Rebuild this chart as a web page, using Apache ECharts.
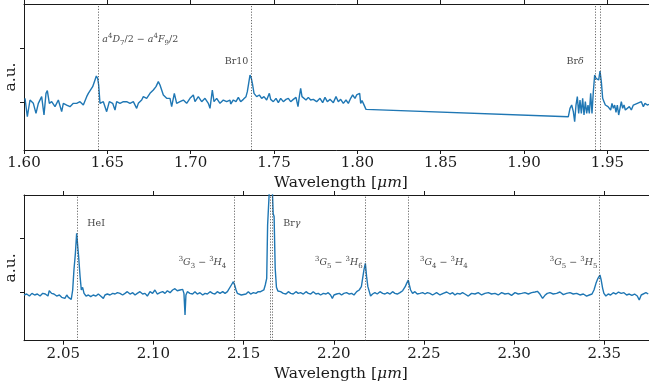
<!DOCTYPE html>
<html>
<head>
<meta charset="utf-8">
<script src="https://cdn.jsdelivr.net/npm/echarts@6/dist/echarts.min.js"></script>
<style>
html, body { margin: 0; padding: 0; background: #fff; }
#chart { width: 649px; height: 381px; }
</style>
</head>
<body>
<div id="chart"></div>
<script>
// H-band spectrum: [wavelength (um), normalised flux]
const hBandSpectrum = [
  [1.6006,1.068],[1.6020,0.728],[1.6036,1.037],[1.6056,0.975],[1.6072,0.790],[1.6086,0.975],[1.6106,1.099],[1.6120,0.759],
  [1.6132,1.160],[1.6140,1.210],[1.6152,0.975],[1.6166,1.006],[1.6186,0.914],[1.6206,1.037],[1.6226,0.821],[1.6236,0.975],
  [1.6256,0.944],[1.6276,0.914],[1.6296,0.975],[1.6316,0.975],[1.6336,1.006],[1.6356,0.944],[1.6376,1.099],[1.6386,1.160],
  [1.6396,1.191],[1.6412,1.284],[1.6426,1.407],[1.6434,1.481],[1.6442,1.438],[1.6448,1.315],[1.6456,0.975],[1.6476,1.006],
  [1.6496,0.821],[1.6512,1.006],[1.6532,0.975],[1.6546,0.852],[1.6556,1.006],[1.6576,0.975],[1.6596,1.006],[1.6616,1.006],
  [1.6636,0.975],[1.6656,1.006],[1.6676,0.883],[1.6686,0.975],[1.6706,1.037],[1.6716,1.099],[1.6736,1.068],[1.6756,1.160],
  [1.6776,1.222],[1.6792,1.284],[1.6806,1.377],[1.6816,1.315],[1.6826,1.222],[1.6836,1.130],[1.6856,1.068],[1.6876,1.068],
  [1.6886,0.914],[1.6902,1.160],[1.6916,0.975],[1.6936,1.006],[1.6956,1.037],[1.6976,0.975],[1.6996,1.068],[1.7016,1.130],
  [1.7026,1.006],[1.7046,1.099],[1.7066,1.006],[1.7086,1.068],[1.7106,0.975],[1.7116,0.883],[1.7130,1.222],[1.7140,1.006],
  [1.7156,1.068],[1.7176,0.975],[1.7196,1.037],[1.7216,1.006],[1.7236,1.037],[1.7240,0.963],[1.7256,1.037],[1.7272,1.006],
  [1.7286,1.086],[1.7300,1.006],[1.7316,1.049],[1.7332,1.099],[1.7340,1.191],[1.7348,1.346],[1.7356,1.500],[1.7364,1.438],
  [1.7372,1.315],[1.7380,1.160],[1.7388,1.191],[1.7396,1.099],[1.7412,1.130],[1.7426,1.068],[1.7440,1.099],[1.7456,1.037],
  [1.7472,1.160],[1.7480,1.049],[1.7496,1.006],[1.7512,1.068],[1.7526,0.988],[1.7540,1.068],[1.7556,1.006],[1.7572,1.049],
  [1.7586,1.068],[1.7600,1.006],[1.7616,1.049],[1.7632,1.086],[1.7644,0.914],[1.7652,1.099],[1.7660,1.253],[1.7668,1.099],
  [1.7680,1.130],[1.7692,1.037],[1.7706,1.086],[1.7720,1.037],[1.7736,1.049],[1.7756,1.006],[1.7776,1.068],[1.7792,0.988],
  [1.7806,1.086],[1.7820,1.006],[1.7836,1.049],[1.7856,0.988],[1.7872,1.099],[1.7886,1.006],[1.7900,1.049],[1.7916,0.975],
  [1.7932,1.037],[1.7946,0.975],[1.7960,1.068],[1.7972,1.130],[1.7986,1.068],[1.7996,1.130],[1.8006,1.160],[1.8014,1.160],
  [1.8020,0.975],[1.8028,1.025],[1.8036,0.975],[1.8044,1.006],[1.8052,0.864],
  [1.9266,0.728],[1.9276,0.883],[1.9286,0.944],[1.9296,0.821],[1.9304,0.636],[1.9312,0.944],[1.9320,1.099],[1.9328,0.790],
  [1.9336,1.037],[1.9344,0.790],[1.9352,1.068],[1.9360,0.759],[1.9368,1.006],[1.9376,0.790],[1.9384,0.944],[1.9392,0.790],
  [1.9400,1.160],[1.9408,0.790],[1.9416,1.191],[1.9424,1.500],[1.9432,1.438],[1.9440,1.469],[1.9448,1.407],[1.9456,1.574],
  [1.9464,1.377],[1.9472,1.068],[1.9480,1.006],[1.9488,0.944],[1.9496,0.975],[1.9504,0.914],[1.9512,0.944],[1.9520,0.852],
  [1.9528,0.975],[1.9536,0.883],[1.9544,0.944],[1.9552,0.809],[1.9560,0.944],[1.9568,0.759],[1.9576,0.883],[1.9584,1.006],
  [1.9592,0.883],[1.9600,0.944],[1.9608,0.852],[1.9620,0.883],[1.9632,0.914],[1.9644,0.852],[1.9656,0.944],[1.9668,0.914],
  [1.9680,0.975],[1.9692,0.944],[1.9704,1.006],[1.9716,0.914],[1.9726,0.975],[1.9740,0.944],[1.9750,0.957]
];

// K-band spectrum: [wavelength (um), normalised flux]
const kBandSpectrum = [
  [2.0282,0.958],[2.0297,0.976],[2.0312,0.939],[2.0326,0.988],[2.0341,0.958],[2.0356,0.976],[2.0371,0.939],[2.0386,0.988],
  [2.0400,0.976],[2.0415,0.939],[2.0422,1.037],[2.0435,0.988],[2.0448,0.976],[2.0463,0.939],[2.0478,0.958],[2.0491,0.915],
  [2.0500,0.939],[2.0509,0.896],[2.0519,0.958],[2.0528,0.915],[2.0537,0.896],[2.0544,0.878],[2.0552,1.050],[2.0559,1.417],
  [2.0567,1.724],[2.0574,2.091],[2.0580,2.061],[2.0585,1.662],[2.0593,1.295],[2.0600,1.050],[2.0607,1.099],[2.0615,0.988],
  [2.0626,0.939],[2.0639,0.958],[2.0652,0.927],[2.0666,0.958],[2.0681,0.939],[2.0694,0.976],[2.0707,0.939],[2.0722,0.896],
  [2.0731,0.958],[2.0744,0.976],[2.0759,0.958],[2.0774,0.988],[2.0787,0.976],[2.0800,1.001],[2.0814,0.988],[2.0829,0.958],
  [2.0842,0.988],[2.0855,1.019],[2.0870,0.976],[2.0885,1.001],[2.0898,0.958],[2.0910,0.988],[2.0925,1.019],[2.0940,0.976],
  [2.0953,0.988],[2.0966,0.939],[2.0981,1.019],[2.0995,0.988],[2.1008,1.050],[2.1021,0.976],[2.1036,1.001],[2.1051,1.019],
  [2.1064,0.988],[2.1077,1.037],[2.1092,1.001],[2.1106,1.050],[2.1119,1.074],[2.1132,1.037],[2.1147,1.050],[2.1162,1.062],
  [2.1169,0.988],[2.1175,0.590],[2.1180,0.958],[2.1188,1.019],[2.1202,0.988],[2.1217,0.976],[2.1230,1.019],[2.1243,0.976],
  [2.1258,1.001],[2.1273,0.958],[2.1286,0.988],[2.1299,0.976],[2.1314,1.019],[2.1328,0.988],[2.1341,0.976],[2.1354,1.019],
  [2.1369,0.988],[2.1384,1.019],[2.1397,0.988],[2.1410,1.019],[2.1421,1.050],[2.1432,1.142],[2.1443,1.203],[2.1450,1.142],
  [2.1458,1.050],[2.1465,0.988],[2.1476,1.019],[2.1487,0.958],[2.1498,0.988],[2.1513,0.976],[2.1526,1.019],[2.1539,0.976],
  [2.1554,1.001],[2.1568,0.988],[2.1581,1.019],[2.1594,1.019],[2.1605,1.050],[2.1612,1.050],[2.1620,1.142],[2.1628,1.265],
  [2.1633,2.245],[2.1640,2.276],[2.1646,3.100],[2.1652,3.300],[2.1658,3.000],[2.1664,2.450],[2.1669,2.400],[2.1675,1.449],
  [2.1682,1.100],[2.1690,1.031],[2.1698,1.031],[2.1705,1.019],[2.1720,0.988],[2.1735,0.976],[2.1748,1.019],[2.1761,0.988],
  [2.1775,0.976],[2.1790,1.019],[2.1803,0.988],[2.1816,1.001],[2.1831,0.976],[2.1846,1.019],[2.1859,0.988],[2.1872,0.976],
  [2.1886,1.019],[2.1901,0.976],[2.1914,0.988],[2.1927,0.958],[2.1942,0.988],[2.1957,0.976],[2.1969,1.001],[2.1982,0.958],
  [2.1992,0.896],[2.2001,0.958],[2.2016,0.976],[2.2031,0.988],[2.2043,0.958],[2.2056,0.988],[2.2071,1.001],[2.2086,0.976],
  [2.2099,0.988],[2.2112,0.958],[2.2127,1.019],[2.2141,1.050],[2.2153,1.111],[2.2160,1.264],[2.2167,1.417],[2.2175,1.540],
  [2.2182,1.295],[2.2189,1.111],[2.2197,1.019],[2.2204,0.939],[2.2215,0.976],[2.2228,1.001],[2.2241,0.976],[2.2256,1.019],
  [2.2271,0.988],[2.2284,0.976],[2.2297,1.001],[2.2312,0.976],[2.2326,1.019],[2.2339,0.988],[2.2352,0.976],[2.2367,1.001],
  [2.2382,1.037],[2.2389,1.050],[2.2396,1.111],[2.2404,1.172],[2.2413,1.233],[2.2419,1.142],[2.2426,1.050],[2.2437,0.988],
  [2.2450,1.019],[2.2463,0.976],[2.2478,0.988],[2.2493,1.001],[2.2506,0.976],[2.2519,1.001],[2.2533,0.988],[2.2548,0.958],
  [2.2552,0.976],[2.2570,1.001],[2.2589,0.958],[2.2607,0.988],[2.2626,1.013],[2.2644,0.976],[2.2659,1.001],[2.2672,0.958],
  [2.2685,0.988],[2.2700,0.976],[2.2714,1.001],[2.2727,0.976],[2.2746,0.939],[2.2764,0.988],[2.2783,0.976],[2.2801,1.001],
  [2.2820,0.958],[2.2838,0.988],[2.2857,1.001],[2.2875,0.976],[2.2894,0.988],[2.2912,0.958],[2.2931,1.001],[2.2949,0.976],
  [2.2968,0.988],[2.2986,0.952],[2.3005,1.001],[2.3023,0.976],[2.3042,0.988],[2.3060,1.001],[2.3079,0.976],[2.3097,1.001],
  [2.3116,1.013],[2.3129,1.025],[2.3143,0.976],[2.3158,0.896],[2.3171,0.952],[2.3184,0.988],[2.3199,1.001],[2.3217,0.976],
  [2.3236,0.988],[2.3254,1.013],[2.3273,0.964],[2.3291,0.988],[2.3310,1.001],[2.3328,0.976],[2.3347,0.988],[2.3365,0.958],
  [2.3384,0.976],[2.3402,0.939],[2.3417,0.958],[2.3432,0.976],[2.3443,1.050],[2.3454,1.172],[2.3465,1.264],[2.3476,1.325],
  [2.3483,1.233],[2.3491,1.080],[2.3498,0.988],[2.3509,0.939],[2.3522,0.976],[2.3535,0.958],[2.3550,1.001],[2.3565,0.976],
  [2.3579,1.013],[2.3594,0.988],[2.3609,1.001],[2.3624,0.958],[2.3639,0.976],[2.3653,0.952],[2.3668,0.976],[2.3683,0.939],
  [2.3694,0.866],[2.3705,0.958],[2.3716,0.988],[2.3731,1.001],[2.3744,0.976]
];

// Axis ticks
const hBandTicks = [1.60, 1.65, 1.70, 1.75, 1.80, 1.85, 1.90, 1.95];
const kBandTicks = [2.05, 2.10, 2.15, 2.20, 2.25, 2.30, 2.35];
const fluxTicks = [1, 2];

// Line identifications (wavelengths marked with dotted rules)
const hBandLines = [1.6446, 1.7362, 1.9430, 1.9458];
const kBandLines = [2.0577, 2.1448, 2.1648, 2.1661, 2.2174, 2.2412, 2.3474];

// Line names (rich-text markup for the math)
const hBandNames = [
  '{i|a}{sup|4}{i|D}{sub|7}{t|/2 − }{i|a}{sup|4}{i|F}{sub|9}{t|/2}',
  '{t|Br10}',
  '{t|Br}{i|δ}'
];
const kBandNames = [
  '{t|HeI}',
  '{sup|3}{i|G}{sub|3}{t| − }{sup|3}{i|H}{sub|4}',
  '{t|Br}{i|γ}',
  '{sup|3}{i|G}{sub|5}{t| − }{sup|3}{i|H}{sub|6}',
  '{sup|3}{i|G}{sub|4}{t| − }{sup|3}{i|H}{sub|4}',
  '{sup|3}{i|G}{sub|5}{t| − }{sup|3}{i|H}{sub|5}'
];

const SERIF = '"DejaVu Serif", serif';
const INK = '#1a1a1a';
const NOTE = '#111';
const BLUE = '#1f77b4';

// Where each name sits: [wavelength, flux, text alignment]
const hBandNamePlace = [[1.6470, 2.148, 'left'], [1.7346, 1.755, 'right'], [1.9358, 1.755, 'right']];
const kBandNamePlace = [[2.0633, 2.263, 'left'], [2.1404, 1.546, 'right'], [2.1720, 2.263, 'left'],
                        [2.2160, 1.546, 'right'], [2.2478, 1.546, 'left'], [2.3462, 1.546, 'right']];

const rich = {
  t:   { fontFamily: SERIF, fontSize: 9.5, color: NOTE, lineHeight: 14, verticalAlign: 'middle' },
  i:   { fontFamily: SERIF, fontStyle: 'italic', fontSize: 9.5, color: NOTE, lineHeight: 14, verticalAlign: 'middle' },
  sup: { fontFamily: SERIF, fontSize: 7, color: NOTE, lineHeight: 8, verticalAlign: 'top' },
  sub: { fontFamily: SERIF, fontSize: 7, color: NOTE, lineHeight: 8, verticalAlign: 'bottom' }
};

function xBottom(gridIndex, min, max, ticks) {
  return {
    type: 'value', gridIndex, min, max, position: 'bottom',
    axisLine: { show: true, onZero: false, lineStyle: { color: INK, width: 1 } },
    axisTick: { show: true, customValues: ticks, length: 4, lineStyle: { color: INK, width: 1 } },
    axisLabel: { show: true, customValues: ticks, formatter: v => v.toFixed(2),
                 fontFamily: SERIF, fontSize: 15, color: INK, margin: 6 },
    splitLine: { show: false },
    name: 'Wavelength [{m|μm}]', nameLocation: 'middle', nameGap: 25,
    nameTextStyle: { fontFamily: SERIF, fontSize: 15.5, color: INK,
                     rich: { m: { fontFamily: SERIF, fontStyle: 'italic', fontSize: 15.5, color: INK } } }
  };
}
function xTop(gridIndex, min, max, ticks) {
  return {
    type: 'value', gridIndex, min, max, position: 'top',
    axisLine: { show: true, onZero: false, lineStyle: { color: INK, width: 1 } },
    axisTick: { show: true, customValues: ticks, length: 4, lineStyle: { color: INK, width: 1 } },
    axisLabel: { show: false },
    splitLine: { show: false }
  };
}
function yLeft(gridIndex, min, max) {
  return {
    type: 'value', gridIndex, min, max,
    axisLine: { show: true, onZero: false, lineStyle: { color: INK, width: 1 } },
    axisTick: { show: true, customValues: fluxTicks, length: 4, lineStyle: { color: INK, width: 1 } },
    axisLabel: { show: false },
    splitLine: { show: false },
    name: 'a.u.', nameLocation: 'middle', nameRotate: 90, nameGap: 5,
    nameTextStyle: { fontFamily: SERIF, fontSize: 15.5, color: INK }
  };
}
function spectrum(axisIndex, data, lines) {
  return {
    type: 'line', xAxisIndex: axisIndex, yAxisIndex: axisIndex, data,
    symbol: 'none', showSymbol: false, clip: true, silent: true, z: 3,
    lineStyle: { color: BLUE, width: 1.4 },
    markLine: {
      silent: true, precision: 5, symbol: ['none', 'none'], label: { show: false },
      lineStyle: { color: '#444', width: 0.8, type: [1.2, 1.6] },
      data: lines.map(w => ({ xAxis: w }))
    }
  };
}
function names(axisIndex, texts, places) {
  return {
    type: 'scatter', xAxisIndex: axisIndex, yAxisIndex: axisIndex, symbolSize: 0, silent: true, z: 5,
    itemStyle: { color: 'rgba(0,0,0,0)' },
    data: texts.map((t, k) => ({
      value: [places[k][0], places[k][1]],
      label: { show: true, formatter: t, position: 'inside', align: places[k][2], verticalAlign: 'middle', rich }
    }))
  };
}

const chart = echarts.init(document.getElementById('chart'), null, { renderer: 'canvas' });
chart.setOption({
  animation: false,
  backgroundColor: '#fff',
  grid: [
    { left: 24, top: 4, width: 634, height: 146, outerBoundsMode: 'none', containLabel: false },
    { left: 24, top: 195, width: 634, height: 145.7, outerBoundsMode: 'none', containLabel: false }
  ],
  xAxis: [
    xBottom(0, 1.60, 1.9804, hBandTicks),
    xBottom(1, 2.0282, 2.3798, kBandTicks),
    xTop(0, 1.60, 1.9804, hBandTicks),
    xTop(1, 2.0282, 2.3798, kBandTicks)
  ],
  yAxis: [yLeft(0, 0.111, 2.815), yLeft(1, 0.118, 2.796)],
  series: [
    spectrum(0, hBandSpectrum, hBandLines),
    spectrum(1, kBandSpectrum, kBandLines),
    names(0, hBandNames, hBandNamePlace),
    names(1, kBandNames, kBandNamePlace)
  ]
});
</script>
</body>
</html>
